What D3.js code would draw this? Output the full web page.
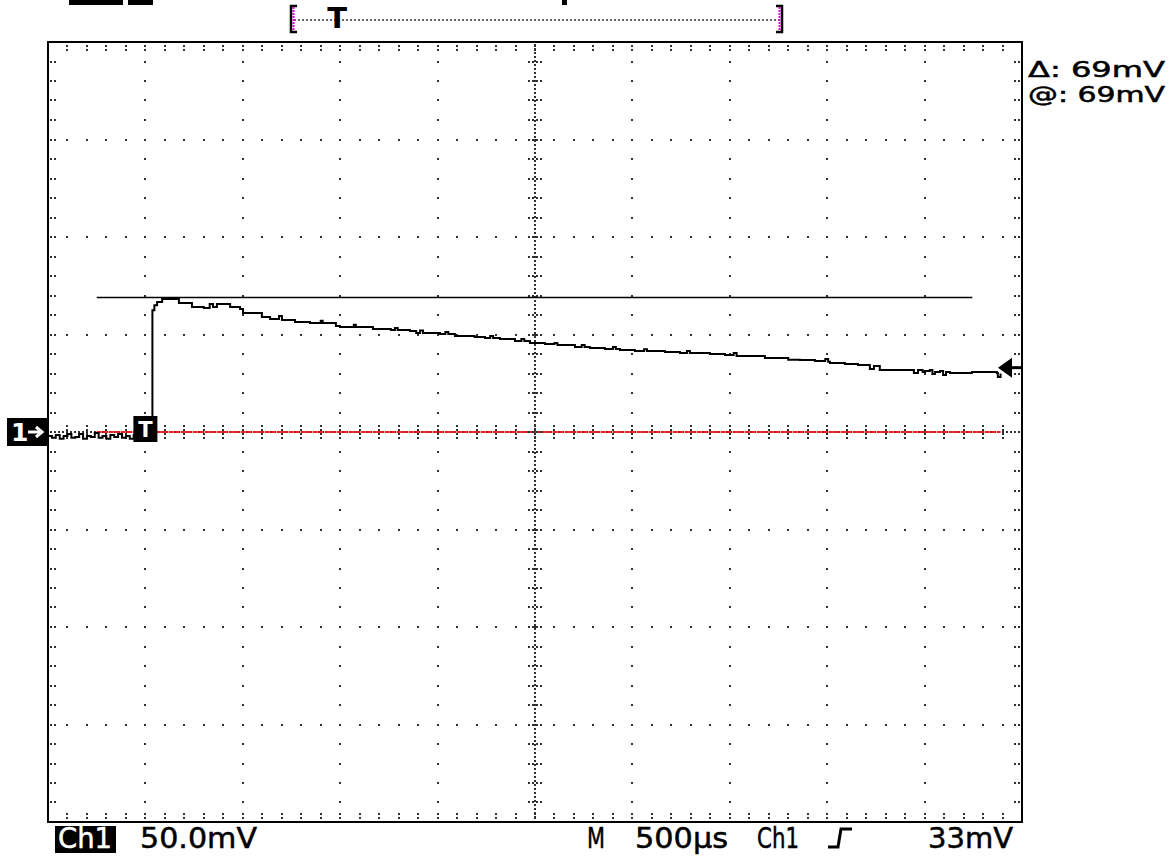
<!DOCTYPE html>
<html>
<head>
<meta charset="utf-8">
<title>Ch1 capture</title>
<script src="https://d3js.org/d3.v7.min.js"></script>
<style>
    body { margin: 0; background: #fff; }
    svg { display: block; background: #fff; }
    .lbl { font-family: "DejaVu Sans", "Liberation Sans", sans-serif; fill: #000; }
</style>
</head>
<body>
<svg id="scope" width="1171" height="856"></svg>
<script>
// Samples: time in µs from the left edge, Ch1 in mV above ground
var timeUs = [0, 20, 40, 60, 80, 100, 120, 140, 160, 180, 200, 220, 240, 260, 280, 300,
    320, 340, 360, 380, 400, 420, 440, 460, 480, 500, 520,
    532, 536, 546, 560, 586, 665, 672, 729, 739, 800, 830, 847, 867, 919, 935, 970, 986,
    1001, 1088, 1098, 1124, 1140, 1176, 1186, 1201, 1258, 1268, 1329, 1345, 1390, 1400,
    1410, 1463, 1478, 1499, 1560, 1570, 1580, 1653, 1668, 1704, 1760, 1781, 1795, 1858,
    1890, 1910, 1925, 2012, 2040, 2055, 2089, 2166, 2190, 2243, 2270, 2285, 2320, 2397,
    2430, 2445, 2474, 2551, 2600, 2615, 2705, 2740, 2755, 2782, 2859, 2900, 2915, 2936,
    3013, 3060, 3075, 3167, 3244, 3280, 3295, 3398, 3475, 3520, 3535, 3629, 3680, 3783,
    3800, 3860, 3937, 3990, 4005, 4014, 4091, 4158, 4219, 4240, 4270, 4435, 4445, 4466,
    4490, 4502, 4527, 4540, 4553, 4579, 4595, 4610, 4630, 4733, 4743, 4871, 4876, 4890, 4895];

var ch1mV = [-2, -3, -1.5, -3.5, -2, -1, -3, -2.5, -1, -3.5, -2, -2.5, -0.5, -3, -2, -3.5,
    -1.5, -2.5, -1, -3, -2, -3.5, -1.5, -2.5, -1, -3, -2,
    -2, 62.5, 65, 66.7, 68.2, 68.2, 66.2, 66.2, 64.1, 63.6, 65.6, 64.1, 65.6, 65.6, 64.1, 64.1, 63.1,
    61, 61, 59, 59, 57.9, 57.9, 59.5, 57.4, 57.4, 56.4, 56.4, 55.9, 55.9, 57,
    55.9, 55.9, 54.4, 53.8, 53.8, 55, 53.8, 53.8, 52.8, 52.8, 52.3, 53.3, 52.3, 51.8,
    50.8, 52, 50.8, 50.3, 51.3, 50.3, 49.2, 49.2, 48.7, 48.2, 49.2, 48.2, 47.7, 46.7,
    47.7, 46.7, 45.6, 45.1, 45.6, 44.6, 43.6, 44.6, 43.6, 43.1, 42.6, 43.6, 42.6, 42.1,
    41.5, 42.5, 41.5, 41, 40.5, 41.5, 40.5, 40, 39.5, 40.5, 39, 39, 38, 38,
    37, 36.9, 36.4, 37.4, 36, 35.4, 34.9, 34.4, 32.3, 33.8, 31.8, 31.8, 30.3, 31.8,
    30.8, 31.3, 31.8, 29.7, 30.8, 31.3, 29.2, 30.8, 30.3, 30.3, 30.8, 30.3, 28.2, 29.5, 29.5];

// Scope settings
var voltsPerDiv = 50;      // mV / div
var timePerDiv = 500;      // µs / div
var triggerTimeUs = 500;
var triggerLevelmV = 33;
var cursormV = 69;
var cursorSpanUs = [250, 4745];
var refSpanUs = [250, 4890];

// Readout text
var bottomLabels = ["Ch1", "50.0mV", "M", "500µs", "Ch1", "33mV"];
var cursorLabels = ["Δ: 69mV", "@: 69mV"];
var markerLabels = ["1", "T"];

var svg = d3.select("#scope");

var xScale = d3.scaleLinear()
    .domain([0, 10 * timePerDiv])
    .range([48, 1022]);

var yScale = d3.scaleLinear()
    .domain([-4 * voltsPerDiv, 4 * voltsPerDiv])
    .range([822, 42]);

// record view on top
var recScale = d3.scaleLinear()
    .domain([0, 10 * timePerDiv])
    .range([291, 782]);

var majorT = d3.range(1, 10).map(function (k) { return k * timePerDiv; });
var minorT = d3.range(1, 50).map(function (k) { return k * timePerDiv / 5; });
var majorV = d3.range(-3, 4).map(function (k) { return k * voltsPerDiv; });
var minorV = d3.range(-19, 20).map(function (k) { return k * voltsPerDiv / 5; });
var midT = 5 * timePerDiv;

var dotColor = "#303030";

function dot(g, px, py) {
    g.append("rect")
        .attr("x", Math.round(px) - 1)
        .attr("y", Math.round(py) - 1)
        .attr("width", 2)
        .attr("height", 2)
        .attr("fill", dotColor);
}

/* GRID */
var grid = svg.append("g").attr("id", "grid");

// dotted major lines (one dot per minor division)
majorT.filter(function (t) { return t !== midT; }).forEach(function (t) {
    minorV.forEach(function (v) { dot(grid, xScale(t), yScale(v)); });
});
majorV.filter(function (v) { return v !== 0; }).forEach(function (v) {
    minorT.forEach(function (t) { dot(grid, xScale(t), yScale(v)); });
});

// ticks on the frame edges
minorT.forEach(function (t) {
    dot(grid, xScale(t), 46); dot(grid, xScale(t), 50);
    dot(grid, xScale(t), 818); dot(grid, xScale(t), 814);
});
minorV.forEach(function (v) {
    dot(grid, 51, yScale(v)); dot(grid, 55, yScale(v));
    dot(grid, 1019, yScale(v)); dot(grid, 1015, yScale(v));
});

// center cross, densely dotted
grid.append("line")
    .attr("x1", xScale(midT)).attr("x2", xScale(midT))
    .attr("y1", 44).attr("y2", 820)
    .attr("stroke", dotColor).attr("stroke-width", 2)
    .attr("stroke-dasharray", "2,2");

grid.append("line")
    .attr("x1", 50).attr("x2", 1020)
    .attr("y1", yScale(0)).attr("y2", yScale(0))
    .attr("stroke", dotColor).attr("stroke-width", 2)
    .attr("stroke-dasharray", "2,2");

// reference line (red) on ground level
grid.append("line")
    .attr("x1", xScale(refSpanUs[0])).attr("x2", xScale(refSpanUs[1]))
    .attr("y1", yScale(0)).attr("y2", yScale(0))
    .attr("stroke", "#ee1c1c").attr("stroke-width", 2)
    .attr("stroke-dasharray", "5,1");

minorV.forEach(function (v) {
    grid.append("line")
        .attr("x1", xScale(midT) - 7).attr("x2", xScale(midT) + 7)
        .attr("y1", Math.round(yScale(v))).attr("y2", Math.round(yScale(v)))
        .attr("stroke", dotColor).attr("stroke-width", 2)
        .attr("stroke-dasharray", "2,2");
});
minorT.forEach(function (t) {
    grid.append("line")
        .attr("x1", Math.round(xScale(t))).attr("x2", Math.round(xScale(t)))
        .attr("y1", yScale(0) - 7).attr("y2", yScale(0) + 7)
        .attr("stroke", dotColor).attr("stroke-width", 2)
        .attr("stroke-dasharray", "2,2");
});

// frame
svg.append("rect")
    .attr("x", xScale(0)).attr("y", yScale(4 * voltsPerDiv))
    .attr("width", xScale(10 * timePerDiv) - xScale(0))
    .attr("height", yScale(-4 * voltsPerDiv) - yScale(4 * voltsPerDiv))
    .attr("fill", "none").attr("stroke", "#000").attr("stroke-width", 2);

/* CURSOR + TRACE */
svg.append("line")
    .attr("x1", xScale(cursorSpanUs[0])).attr("x2", xScale(cursorSpanUs[1]))
    .attr("y1", yScale(cursormV)).attr("y2", yScale(cursormV))
    .attr("stroke", "#000").attr("stroke-width", 1.6);

var samples = timeUs.map(function (t, i) { return [t, ch1mV[i]]; });

var traceLine = d3.line()
    .x(function (d) { return xScale(d[0]); })
    .y(function (d) { return yScale(d[1]); })
    .curve(d3.curveStepAfter);

svg.append("path")
    .datum(samples)
    .attr("d", traceLine)
    .attr("fill", "none")
    .attr("stroke", "#000")
    .attr("stroke-width", 2);

/* MARKERS */
// ground marker "1→"
var gy = yScale(0);
svg.append("rect")
    .attr("x", 7).attr("y", gy - 14).attr("width", 40).attr("height", 28)
    .attr("fill", "#000");
svg.append("text")
    .attr("class", "lbl")
    .attr("x", 11).attr("y", gy + 9)
    .style("font-size", "25px").style("font-weight", "bold")
    .style("fill", "#fff")
    .text(markerLabels[0]);
svg.append("path")
    .attr("d", "M28," + gy + " H41 M36," + (gy - 5) + " L42," + gy + " L36," + (gy + 5))
    .attr("fill", "none").attr("stroke", "#fff").attr("stroke-width", 3);

// trigger point box
var tx = xScale(triggerTimeUs);
svg.append("rect")
    .attr("x", tx - 12).attr("y", gy - 16).attr("width", 24).attr("height", 26)
    .attr("fill", "#000");
svg.append("text")
    .attr("class", "lbl")
    .attr("x", tx).attr("y", gy + 5)
    .attr("text-anchor", "middle")
    .style("font-size", "21px").style("font-weight", "bold")
    .style("fill", "#fff")
    .text(markerLabels[1]);

// trigger level arrow on the right edge
var ly = yScale(triggerLevelmV);
svg.append("path")
    .attr("d", "M998," + ly + " L1012," + (ly - 10) + " L1012," + (ly + 10) + " Z")
    .attr("fill", "#000");
svg.append("line")
    .attr("x1", 1010).attr("x2", 1022)
    .attr("y1", ly).attr("y2", ly)
    .attr("stroke", "#000").attr("stroke-width", 3);

/* RECORD VIEW (top) */
var recordG = svg.append("g").attr("id", "record");
recordG.append("line")
    .attr("x1", recScale(0) + 3).attr("x2", recScale(10 * timePerDiv) - 3)
    .attr("y1", 20).attr("y2", 20)
    .attr("stroke", "#333").attr("stroke-width", 1.5)
    .attr("stroke-dasharray", "2,2");

[[recScale(0), 1], [recScale(10 * timePerDiv), -1]].forEach(function (b) {
    var bx = b[0], dir = b[1];
    recordG.append("path")
        .attr("d", "M" + (bx + 6 * dir) + ",6 H" + bx + " V32 H" + (bx + 6 * dir))
        .attr("fill", "none").attr("stroke", "#000").attr("stroke-width", 2.5);
    recordG.append("line")
        .attr("x1", bx + 2.5 * dir).attr("x2", bx + 2.5 * dir)
        .attr("y1", 7).attr("y2", 31)
        .attr("stroke", "#e000e0").attr("stroke-width", 2)
        .attr("stroke-dasharray", "2,1");
});

recordG.append("text")
    .attr("class", "lbl")
    .attr("x", recScale(triggerTimeUs) - 3).attr("y", 28)
    .attr("text-anchor", "middle")
    .style("font-size", "29px").style("font-weight", "bold")
    .text(markerLabels[1]);

// clipped status blocks at the very top
recordG.append("rect").attr("x", 69).attr("y", 0).attr("width", 54).attr("height", 5).attr("fill", "#000");
recordG.append("rect").attr("x", 128).attr("y", 0).attr("width", 25).attr("height", 5).attr("fill", "#000");
recordG.append("rect").attr("x", 562).attr("y", 0).attr("width", 5).attr("height", 5).attr("fill", "#000");

/* READOUTS */
function label(txt, x, y, size, width, color) {
    return svg.append("text")
        .attr("class", "lbl")
        .attr("x", x).attr("y", y)
        .attr("textLength", width)
        .attr("lengthAdjust", "spacingAndGlyphs")
        .style("font-size", size + "px")
        .style("fill", color || "#000")
        .style("stroke", color || "#000")
        .style("stroke-width", 0.5)
        .text(txt);
}

svg.append("rect")
    .attr("x", 55).attr("y", 826).attr("width", 61).attr("height", 27)
    .attr("fill", "#000");
label(bottomLabels[0], 58, 848, 28, 54, "#fff");
label(bottomLabels[1], 140, 848, 28, 117);
label(bottomLabels[2], 587, 848, 28, 18);
label(bottomLabels[3], 635, 848, 28, 93);
label(bottomLabels[4], 757, 848, 28, 42);
label(bottomLabels[5], 928, 848, 28, 85);

// rising slope symbol
svg.append("path")
    .attr("d", "M828,847 H838 L841,829 H852")
    .attr("fill", "none").attr("stroke", "#000").attr("stroke-width", 3);

label(cursorLabels[0], 1028, 77, 21, 137);
label(cursorLabels[1], 1028, 102, 21, 137);
</script>
</body>
</html>
